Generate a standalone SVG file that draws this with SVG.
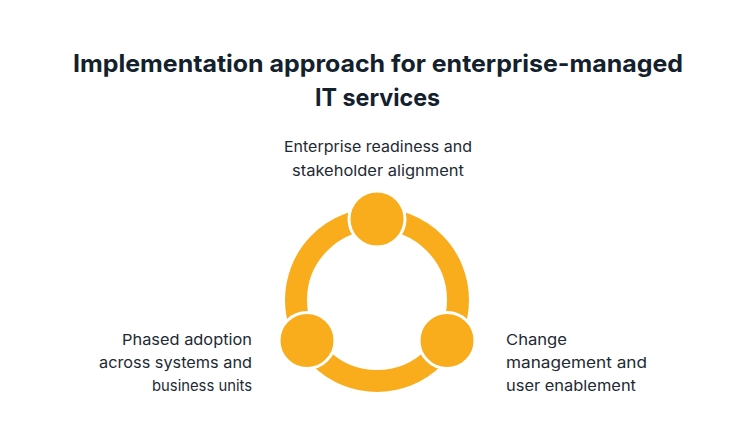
<svg xmlns="http://www.w3.org/2000/svg" width="754" height="446" viewBox="0 0 754 446">
<style>
.title{font-family:Inter,"Noto Sans","Liberation Sans",sans-serif;font-weight:700;font-size:24px;fill:#13212d;text-anchor:middle}
.lbl{font-family:Inter,"Noto Sans","Liberation Sans",sans-serif;font-size:15px;fill:#1e2a33}
.node{fill:#F9AD1C;stroke:#ffffff;stroke-width:3}
</style>
<rect width="754" height="446" fill="#ffffff"/>
<text class="title" x="378" y="72" textLength="610" lengthAdjust="spacingAndGlyphs">Implementation approach for enterprise-managed</text>
<text class="title" x="377.5" y="106" textLength="125" lengthAdjust="spacingAndGlyphs">IT services</text>
<g id="connectors">
<circle cx="377" cy="300" r="81" fill="none" stroke="#F9AD1C" stroke-width="22"/>
</g>
<g id="node-top">
<circle class="node" cx="377" cy="219" r="28"/>
<text class="lbl" x="378" y="152" text-anchor="middle" textLength="188" lengthAdjust="spacingAndGlyphs">Enterprise readiness and</text>
<text class="lbl" x="378" y="176" text-anchor="middle" textLength="172" lengthAdjust="spacingAndGlyphs">stakeholder alignment</text>
</g>
<g id="node-left">
<circle class="node" cx="307" cy="340.5" r="28"/>
<text class="lbl" x="252" y="345" text-anchor="end" textLength="130" lengthAdjust="spacingAndGlyphs">Phased adoption</text>
<text class="lbl" x="252" y="368" text-anchor="end" textLength="153" lengthAdjust="spacingAndGlyphs">across systems and</text>
<text class="lbl" x="252" y="391" text-anchor="end" textLength="100" lengthAdjust="spacingAndGlyphs">business units</text>
</g>
<g id="node-right">
<circle class="node" cx="447" cy="340.5" r="28"/>
<text class="lbl" x="506" y="345" textLength="61" lengthAdjust="spacingAndGlyphs">Change</text>
<text class="lbl" x="506" y="368" textLength="141" lengthAdjust="spacingAndGlyphs">management and</text>
<text class="lbl" x="506" y="391" textLength="130" lengthAdjust="spacingAndGlyphs">user enablement</text>
</g>
</svg>
